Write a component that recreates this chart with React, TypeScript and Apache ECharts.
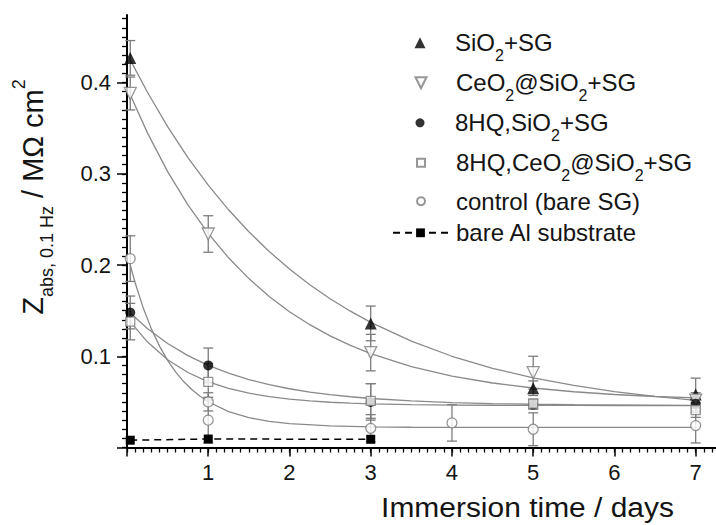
import React, { useEffect, useRef } from "react";
import * as echarts from "echarts";

const T0 = 0.04;

// measured points (x: days, y: MΩ cm², e: error half-width)
const sio2X = [T0, 3, 5, 7];
const sio2Y = [0.427, 0.136, 0.065, 0.058];
const sio2E = [0.019, 0.019, 0.008, 0.018];

const ceoX = [T0, 1, 3, 5, 7];
const ceoY = [0.388, 0.234, 0.104, 0.082, 0.052];
const ceoE = [0.018, 0.02, 0.02, 0.018, 0.008];

const hqX = [T0, 1, 3, 5, 7];
const hqY = [0.148, 0.09, 0.05, 0.047, 0.048];
const hqE = [0.018, 0.019, 0.02, 0.005, 0.01];

const hqceX = [T0, 1, 3, 5, 7];
const hqceY = [0.138, 0.072, 0.051, 0.048, 0.041];
const hqceE = [0.02, 0.02, 0.019, 0.005, 0.008];

const ctrlX = [T0, 1, 1, 3, 4, 5, 7];
const ctrlY = [0.207, 0.05, 0.03, 0.021, 0.027, 0.02, 0.024];
const ctrlE = [0.025, 0.01, 0.025, 0.015, 0.02, 0.018, 0.019];

const alX = [T0, 1, 3];
const alY = [0.008, 0.0093, 0.009];

// fitted curves
const fitT = [0.04, 0.25, 0.5, 0.75, 1, 1.25, 1.5, 1.75, 2, 2.25, 2.5, 2.75, 3, 3.5, 4, 4.5, 5, 5.5, 6, 6.5, 7];
const fitSio2 = [0.4248, 0.3896, 0.3516, 0.3178, 0.2875, 0.2605, 0.2364, 0.2149, 0.1956, 0.1784, 0.1631, 0.1494, 0.1372, 0.1165, 0.1, 0.0868, 0.0763, 0.068, 0.0613, 0.056, 0.0517];
const fitCeo = [0.3865, 0.3451, 0.3024, 0.2659, 0.2347, 0.2079, 0.1851, 0.1656, 0.1488, 0.1346, 0.1223, 0.1119, 0.1029, 0.0887, 0.0783, 0.0707, 0.0652, 0.0611, 0.0581, 0.0559, 0.0543];
const fitHq = [0.1474, 0.1305, 0.114, 0.1007, 0.09, 0.0814, 0.0745, 0.0689, 0.0644, 0.0608, 0.0579, 0.0556, 0.0537, 0.051, 0.0492, 0.0481, 0.0474, 0.0469, 0.0466, 0.0464, 0.0462];
const fitHqce = [0.138, 0.1158, 0.0962, 0.0822, 0.072, 0.0647, 0.0595, 0.0557, 0.053, 0.051, 0.0496, 0.0486, 0.0479, 0.047, 0.0465, 0.0463, 0.0461, 0.0461, 0.046, 0.046, 0.046];
const fitCtrlT = [0.04, 0.1, 0.2, 0.3, 0.4, 0.5, 0.6, 0.7, 0.8, 0.9, 1, 1.25, 1.5, 1.75, 2, 2.5, 3, 3.5, 4, 5, 6, 7];
const fitCtrl = [0.2, 0.1806, 0.1528, 0.13, 0.1111, 0.0955, 0.0826, 0.072, 0.0633, 0.0561, 0.0501, 0.0394, 0.0327, 0.0286, 0.0261, 0.0236, 0.0226, 0.0222, 0.0221, 0.022, 0.022, 0.022];

// axis ticks
const xMajorTicks = [0, 1, 2, 3, 4, 5, 6, 7];
const xLabels = [1, 2, 3, 4, 5, 6, 7];
const yMajorTicks = [0, 0.1, 0.2, 0.3, 0.4];
const yLabels = [0.1, 0.2, 0.3, 0.4];
const xMinorTicks = Array.from({ length: 73 }, (_, i) => i / 10);
const yMinorTicks = Array.from({ length: 48 }, (_, i) => i / 100);

const FONT = "'Liberation Sans', Arial, Helvetica, sans-serif";
const GRAY = "#7c7c7c";
const TXT = "#141414";

const zip = (xs: number[], ys: number[]) => xs.map((x, i) => [x, ys[i]]);

function errSeries(xs: number[], ys: number[], es: number[]) {
  return {
    type: "custom",
    silent: true,
    z: 1,
    data: xs.map((x, i) => [x, ys[i] - es[i], ys[i] + es[i]]),
    encode: { x: 0, y: [1, 2] },
    renderItem: (_p: any, api: any) => {
      const lo = api.coord([api.value(0), api.value(1)]);
      const hi = api.coord([api.value(0), api.value(2)]);
      const w = 5;
      const style = { stroke: GRAY, lineWidth: 1.3, fill: "none" };
      return {
        type: "group",
        children: [
          { type: "line", shape: { x1: lo[0], y1: lo[1], x2: hi[0], y2: hi[1] }, style },
          { type: "line", shape: { x1: lo[0] - w, y1: lo[1], x2: lo[0] + w, y2: lo[1] }, style },
          { type: "line", shape: { x1: hi[0] - w, y1: hi[1], x2: hi[0] + w, y2: hi[1] }, style },
        ],
      };
    },
  };
}

function fitSeries(ts: number[], vs: number[]) {
  return {
    type: "line",
    silent: true,
    z: 2,
    data: zip(ts, vs),
    showSymbol: false,
    symbol: "none",
    smooth: false,
    lineStyle: { color: "#8a8a8a", width: 1.3 },
  };
}

const openStyle = { color: "#ffffff", borderColor: GRAY, borderWidth: 1.3 };

const legendRich = {
  g: { width: 10, fontSize: 24, lineHeight: 41, fontFamily: FONT },
  n: { fontSize: 24, lineHeight: 41, fontFamily: FONT, color: TXT },
  s: { fontSize: 16, lineHeight: 16, fontFamily: FONT, color: TXT, verticalAlign: "bottom" },
};

// legend rows: icon size (s), row centre (c)
const legendRows = [
  { name: "SiO2+SG", label: "{n|SiO}{s|2}{n|+SG}", c: 43.3, s: 11, icon: "" },
  { name: "CeO2@SiO2+SG", label: "{n|CeO}{s|2}{n|@SiO}{s|2}{n|+SG}", c: 83.3, s: 11, icon: "path://M0,0L10,0L5,10Z" },
  { name: "8HQ,SiO2+SG", label: "{n|8HQ,SiO}{s|2}{n|+SG}", c: 123.3, s: 9, icon: "" },
  { name: "8HQ,CeO2@SiO2+SG", label: "{n|8HQ,CeO}{s|2}{n|@SiO}{s|2}{n|+SG}", c: 163.3, s: 8, icon: "" },
  { name: "control (bare SG)", label: "{n|control (bare SG)}", c: 201.7, s: 8, icon: "" },
];

export default function App() {
  const ref = useRef<HTMLDivElement>(null);

  useEffect(() => {
    document.body.style.margin = "0";
    if (!ref.current) return;
    const chart = echarts.init(ref.current, undefined, { renderer: "svg" });

    const symbolLegends = legendRows.map((r) => ({
      data: [r.icon ? { name: r.name, icon: r.icon } : r.name],
      left: 420 - r.s / 2,
      top: r.c - 12.5,
      orient: "vertical",
      padding: 0,
      itemWidth: r.s,
      itemHeight: r.s,
      selectedMode: false,
      formatter: () => "{g| }" + r.label,
      textStyle: {
        color: TXT,
        rich: { ...legendRich, g: { ...legendRich.g, width: 30 - r.s / 2 } },
      },
    }));
    const lineLegend = {
      data: ["bare Al substrate"],
      left: 392,
      top: 233.3 - 12.5,
      orient: "vertical",
      padding: 0,
      itemWidth: 55,
      itemHeight: 11,
      selectedMode: false,
      formatter: () => "{g| }{n|bare Al substrate}",
      textStyle: { color: TXT, rich: { ...legendRich, g: { ...legendRich.g, width: 3 } } },
    };

    const option: any = {
      animation: false,
      backgroundColor: "#ffffff",
      grid: { left: 127, right: 0, top: 15, bottom: 77.5, containLabel: false, outerBoundsMode: "none" },
      xAxis: [
        {
          type: "value",
          min: 0,
          max: 7.25,
          axisLine: { show: true, onZero: false, lineStyle: { color: "#000", width: 2 } },
          axisTick: { show: true, length: 9, customValues: xMajorTicks, lineStyle: { color: "#000", width: 1.5 } },
          axisLabel: {
            show: true,
            customValues: xLabels,
            margin: 14,
            fontSize: 22,
            fontFamily: FONT,
            color: TXT,
            formatter: (v: number) => String(v),
          },
          splitLine: { show: false },
        },
        {
          type: "value",
          min: 0,
          max: 7.25,
          position: "bottom",
          axisLine: { show: false, onZero: false },
          axisTick: { show: true, length: 5, customValues: xMinorTicks, lineStyle: { color: "#000", width: 1.3 } },
          axisLabel: { show: false },
          splitLine: { show: false },
        },
      ],
      yAxis: [
        {
          type: "value",
          min: 0,
          max: 0.474,
          axisLine: { show: true, onZero: false, lineStyle: { color: "#000", width: 2 } },
          axisTick: { show: true, length: 10, customValues: yMajorTicks, lineStyle: { color: "#000", width: 1.5 } },
          axisLabel: {
            show: true,
            customValues: yLabels,
            margin: 16,
            fontSize: 22,
            fontFamily: FONT,
            color: TXT,
            formatter: (v: number) => v.toFixed(1),
          },
          splitLine: { show: false },
        },
        {
          type: "value",
          min: 0,
          max: 0.474,
          position: "left",
          axisLine: { show: false, onZero: false },
          axisTick: { show: true, length: 5, customValues: yMinorTicks, lineStyle: { color: "#000", width: 1.3 } },
          axisLabel: { show: false },
          splitLine: { show: false },
        },
      ],
      legend: [...symbolLegends, lineLegend],
      graphic: [
        {
          type: "text",
          x: 32.5,
          y: 197,
          rotation: Math.PI / 2,
          style: {
            text: "{n|Z}{s|abs, 0.1 Hz}{n| / MΩ cm}{p|2}",
            align: "center",
            verticalAlign: "middle",
            rich: {
              n: { fontSize: 29, lineHeight: 46, fontFamily: FONT, fill: TXT },
              s: { fontSize: 18, lineHeight: 18, fontFamily: FONT, fill: TXT, verticalAlign: "bottom" },
              p: { fontSize: 18, lineHeight: 18, fontFamily: FONT, fill: TXT, verticalAlign: "top" },
            },
          },
        },
        {
          type: "text",
          x: 527.5,
          y: 507.5,
          scaleX: 1.07,
          style: {
            text: "Immersion time / days",
            fontSize: 28,
            fontFamily: FONT,
            fill: TXT,
            align: "center",
            verticalAlign: "middle",
          },
        },
      ],
      series: [
        errSeries(sio2X, sio2Y, sio2E),
        errSeries(ceoX, ceoY, ceoE),
        errSeries(hqX, hqY, hqE),
        errSeries(hqceX, hqceY, hqceE),
        errSeries(ctrlX, ctrlY, ctrlE),
        fitSeries(fitT, fitSio2),
        fitSeries(fitT, fitCeo),
        fitSeries(fitT, fitHq),
        fitSeries(fitT, fitHqce),
        fitSeries(fitCtrlT, fitCtrl),
        {
          type: "scatter",
          name: "SiO2+SG",
          z: 5,
          data: zip(sio2X, sio2Y),
          symbol: "triangle",
          symbolSize: 12,
          itemStyle: { color: "#000" },
        },
        {
          type: "scatter",
          name: "CeO2@SiO2+SG",
          z: 5,
          data: zip(ceoX, ceoY),
          symbol: "triangle",
          symbolRotate: 180,
          symbolSize: 12,
          itemStyle: openStyle,
        },
        {
          type: "scatter",
          name: "8HQ,SiO2+SG",
          z: 5,
          data: zip(hqX, hqY),
          symbol: "circle",
          symbolSize: 10,
          itemStyle: { color: "#000" },
        },
        {
          type: "scatter",
          name: "8HQ,CeO2@SiO2+SG",
          z: 5,
          data: zip(hqceX, hqceY),
          symbol: "rect",
          symbolSize: 9,
          itemStyle: openStyle,
        },
        {
          type: "scatter",
          name: "control (bare SG)",
          z: 5,
          data: zip(ctrlX, ctrlY),
          symbol: "circle",
          symbolSize: 10,
          itemStyle: openStyle,
        },
        {
          type: "line",
          name: "bare Al substrate",
          z: 5,
          data: zip(alX, alY),
          symbol: "rect",
          symbolSize: 9,
          showSymbol: true,
          itemStyle: { color: "#000" },
          lineStyle: { color: "#000", width: 1.5, type: [7, 5] },
        },
      ],
    };

    chart.setOption(option);
    return () => chart.dispose();
  }, []);

  return (
    <div
      ref={ref}
      style={{ position: "absolute", left: 0, top: 0, width: 716, height: 525 }}
    />
  );
}
